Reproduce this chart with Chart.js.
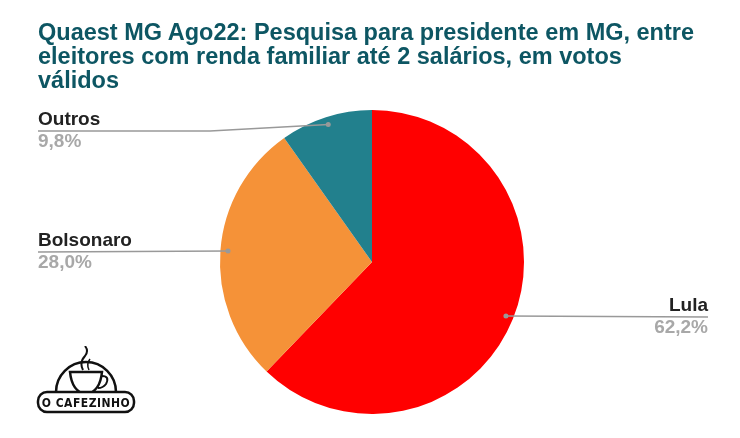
<!DOCTYPE html>
<html>
<head>
<meta charset="utf-8">
<script src="https://cdn.jsdelivr.net/npm/chart.js@4"></script>
<style>
  html, body { margin: 0; padding: 0; background: #fff; }
  #wrap { position: relative; width: 740px; height: 438px; }
  #title {
    position: absolute; left: 38px; top: 20px; width: 700px;
    font-family: 'Liberation Sans', Arial, sans-serif; font-weight: bold; font-size: 23.5px;
    line-height: 24px; color: #0d5663; white-space: nowrap;
  }
  #logo { position: absolute; left: 36px; top: 346px; }
</style>
</head>
<body>
<div id="wrap">
  <canvas id="pie" width="740" height="438"></canvas>
  <div id="title">Quaest MG Ago22: Pesquisa para presidente em MG, entre<br>eleitores com renda familiar até 2 salários, em votos<br>válidos</div>
  <svg id="logo" width="100" height="70" viewBox="0 0 100 70">
    <path d="M20 46 A30 30 0 0 1 80 46" fill="none" stroke="#111" stroke-width="2.5"/>
    <path d="M34 26 L66 26 Q64 46 50 48 Q36 46 34 26 Z" fill="none" stroke="#111" stroke-width="2.5"/>
    <path d="M66 30 Q74 30 70 38 Q67 42 62 42" fill="none" stroke="#111" stroke-width="2"/>
    <path d="M47 24 Q43 16 49 10 Q53 5 49 0" fill="none" stroke="#111" stroke-width="2"/>
    <path d="M53 24 Q50 18 54 13" fill="none" stroke="#111" stroke-width="1.5"/>
    <rect x="2" y="46" width="96" height="20" rx="9" fill="#fff" stroke="#111" stroke-width="2.5"/>
    <text x="50" y="61" text-anchor="middle" font-family="DejaVu Sans Condensed, sans-serif" font-weight="bold" font-size="12" letter-spacing="0.5" fill="#111">O CAFEZINHO</text>
  </svg>
</div>
<script>
const categories = ["Lula", "Bolsonaro", "Outros"];
const values = [62.2, 28.0, 9.8];
const valueLabels = ["62,2%", "28,0%", "9,8%"];
const sliceColors = ["#ff0000", "#f59238", "#22808d"];

// where each label sits: text anchor x, line y, alignment, elbow x for the leader
const labelSpots = [
  { x: 708, y: 317, align: "right", elbow: null },
  { x: 38, y: 252, align: "left", elbow: null },
  { x: 38, y: 131, align: "left", elbow: 210 }
];

const leaderLabels = {
  id: "leaderLabels",
  afterDraw(chart) {
    const ctx = chart.ctx;
    const meta = chart.getDatasetMeta(0);
    meta.data.forEach((arc, i) => {
      const mid = (arc.startAngle + arc.endAngle) / 2;
      const r = arc.outerRadius * 0.95;
      const dx = arc.x + Math.cos(mid) * r;
      const dy = arc.y + Math.sin(mid) * r;
      const spot = labelSpots[i];
      ctx.save();
      ctx.strokeStyle = "#999";
      ctx.lineWidth = 1.5;
      ctx.beginPath();
      if (spot.align === "left") {
        ctx.moveTo(spot.x, spot.y);
        if (spot.elbow) ctx.lineTo(spot.elbow, spot.y);
        ctx.lineTo(dx, dy);
      } else {
        ctx.moveTo(dx, dy);
        ctx.lineTo(spot.x, spot.y);
      }
      ctx.stroke();
      ctx.fillStyle = "#999";
      ctx.beginPath();
      ctx.arc(dx, dy, 2.5, 0, Math.PI * 2);
      ctx.fill();

      ctx.textAlign = spot.align;
      ctx.textBaseline = "alphabetic";
      ctx.font = "bold 19px 'Liberation Sans', Arial, sans-serif";
      ctx.fillStyle = "#222";
      ctx.fillText(categories[i], spot.x, spot.y - 6);
      ctx.fillStyle = "#a8a8a8";
      ctx.fillText(valueLabels[i], spot.x, spot.y + 16);
      ctx.restore();
    });
  }
};

new Chart(document.getElementById("pie"), {
  type: "pie",
  data: {
    labels: categories,
    datasets: [{
      data: values,
      backgroundColor: sliceColors,
      borderWidth: 0
    }]
  },
  options: {
    responsive: false,
    animation: false,
    layout: { padding: { top: 110, bottom: 24, left: 4, right: 0 } },
    plugins: {
      legend: { display: false },
      tooltip: { enabled: false }
    }
  },
  plugins: [leaderLabels]
});
</script>
</body>
</html>
